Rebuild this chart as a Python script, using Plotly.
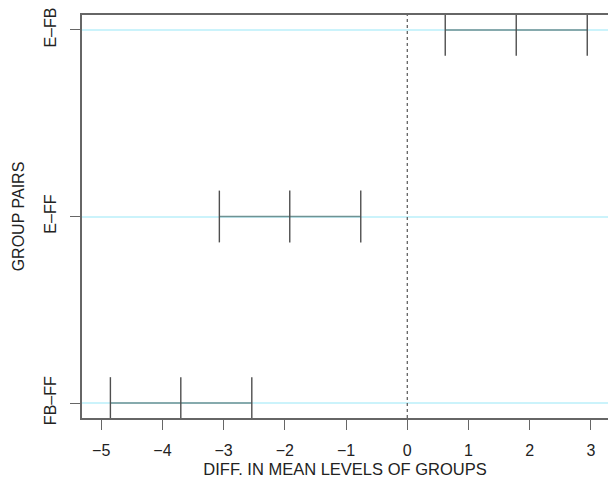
import plotly.graph_objects as go

pairs = ["E\u2013FB", "E\u2013FF", "FB\u2013FF"]
pair_pos = [3, 2, 1]
diff = [1.78, -1.92, -3.70]
lwr = [0.62, -3.07, -4.85]
upr = [2.94, -0.76, -2.54]
x_ticks = [-5, -4, -3, -2, -1, 0, 1, 2, 3]

FONT = "Liberation Sans, Arial, Helvetica, sans-serif"

fig = go.Figure()

for p, lo, d, hi in zip(pair_pos, lwr, diff, upr):
    fig.add_trace(go.Scatter(
        x=[lo, hi], y=[p, p], mode="lines",
        line=dict(color="#6f9293", width=1.4),
        hoverinfo="skip", showlegend=False,
    ))
    fig.add_trace(go.Scatter(
        x=[lo, d, hi], y=[p, p, p], mode="markers",
        marker=dict(symbol="line-ns-open", size=37, color="#4f4f4f",
                    line=dict(color="#4f4f4f", width=1.4)),
        showlegend=False, cliponaxis=True,
    ))

fig.add_shape(type="line", xref="x", yref="paper", x0=0, x1=0, y0=0, y1=1,
              line=dict(color="#555555", width=1.2, dash="3px,3px"))

fig.update_layout(
    width=608, height=478,
    margin=dict(l=82, r=0, t=15, b=60, autoexpand=False),
    paper_bgcolor="white", plot_bgcolor="white",
    font=dict(family=FONT, size=16, color="#222222"),
    xaxis=dict(
        range=[-5.314, 3.279], tickvals=x_ticks,
        ticktext=[("\u2212" + str(-v)) if v < 0 else str(v) for v in x_ticks],
        ticks="outside", ticklen=10, tickwidth=1.2, tickcolor="#666666",
        showline=True, linecolor="#666666", linewidth=1.5, mirror=True,
        showgrid=False, zeroline=False, ticklabelstandoff=7,
        automargin=False,
        tickfont=dict(size=16, color="#222222"),
        title=dict(text="DIFF. IN MEAN LEVELS OF GROUPS", standoff=9,
                   font=dict(size=16.5, color="#222222")),
    ),
    yaxis=dict(
        range=[0.92, 3.08], tickvals=pair_pos, ticktext=pairs, tickangle=-90,
        ticks="outside", ticklen=10, tickwidth=1.2, tickcolor="#666666",
        showline=True, linecolor="#666666", linewidth=1.5, mirror=False,
        showgrid=True, gridcolor="#cbf3fb", gridwidth=1.5, zeroline=False,
        ticklabelstandoff=8, automargin=False,
        tickfont=dict(size=16, color="#222222"),
        title=dict(text="GROUP PAIRS", standoff=13,
                   font=dict(size=16, color="#222222")),
    ),
)

fig.write_html("out.html")
